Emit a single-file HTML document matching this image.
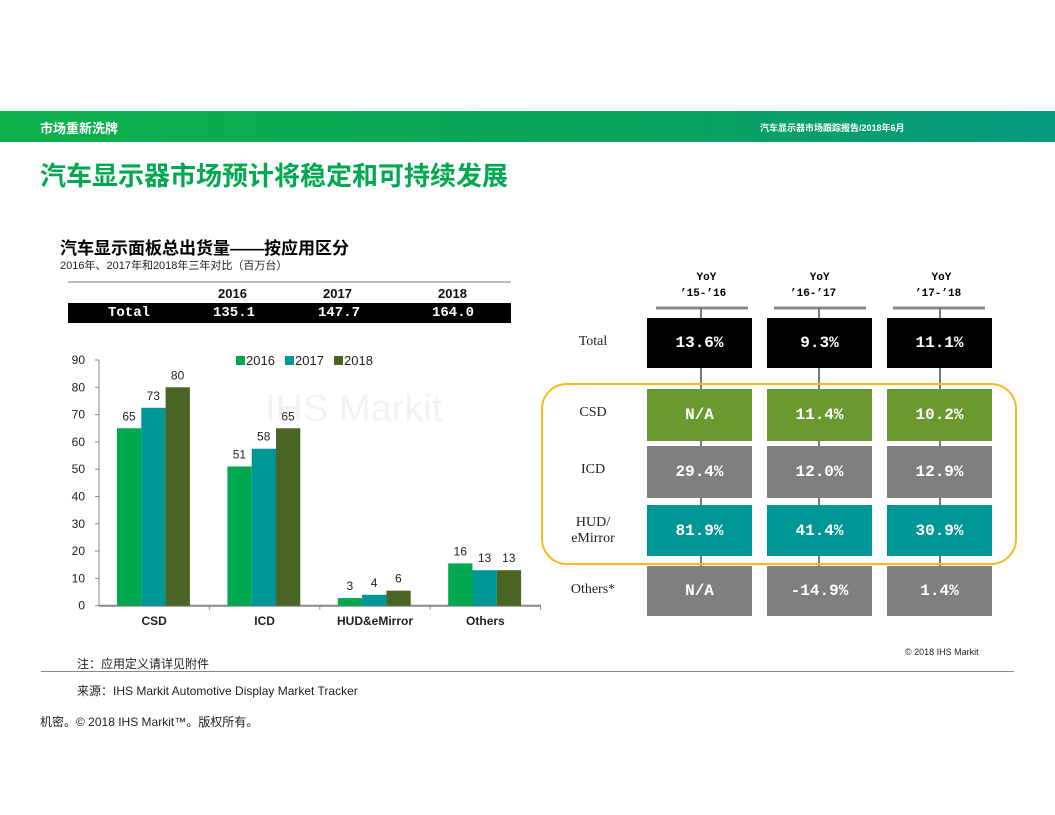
<!DOCTYPE html>
<html><head><meta charset="utf-8"><style>
body{margin:0;width:1055px;height:815px;background:#fff;position:relative;overflow:hidden;font-family:"Liberation Sans","Noto Sans CJK SC",sans-serif}
.a{position:absolute;white-space:nowrap}
.cell{position:absolute;color:#fff;font-family:"Liberation Mono","DejaVu Sans Mono",monospace;font-weight:bold;font-size:16px;display:flex;align-items:center;justify-content:center}
.rl{position:absolute;font-family:"Liberation Serif","Noto Serif CJK SC",serif;font-size:14px;color:#222;text-align:center;width:80px}
</style></head><body>
<div class="a" style="left:0;top:111px;width:1055px;height:31px;background:linear-gradient(90deg,#0cb14b,#0aa35d 60%,#079a80)"></div>
<div class="a" style="left:40px;top:118px;color:#fff;font-size:13px;font-weight:bold">市场重新洗牌</div>
<div class="a" style="left:760px;top:121px;color:#fff;font-size:9px;font-weight:bold">汽车显示器市场跟踪报告/2018年6月</div>
<div class="a" style="left:40px;top:156px;color:#00a94f;font-size:26px;font-weight:bold">汽车显示器市场预计将稳定和可持续发展</div>
<div class="a" style="left:60px;top:234px;font-size:17px;font-weight:bold;color:#000">汽车显示面板总出货量——按应用区分</div>
<div class="a" style="left:60px;top:257px;font-size:11px;color:#222">2016年、2017年和2018年三年对比（百万台）</div>
<div class="a" style="left:68px;top:281px;width:443px;height:2px;background:#bbb"></div>
<div class="a" style="left:68px;top:286px;width:443px;font-size:13px;font-weight:bold;color:#111">
<span class="a" style="left:150px">2016</span><span class="a" style="left:255px">2017</span><span class="a" style="left:370px">2018</span></div>
<div class="a" style="left:68px;top:303px;width:443px;height:20px;background:#000;color:#fff;font-family:'Liberation Mono',monospace;font-size:14px;font-weight:bold">
<span class="a" style="left:40px;top:2px">Total</span><span class="a" style="left:145px;top:2px">135.1</span><span class="a" style="left:250px;top:2px">147.7</span><span class="a" style="left:364px;top:2px">164.0</span></div>

<svg class="a" style="left:0;top:0" width="560" height="650" id="chart"></svg>

<div class="a" style="left:265px;top:388px;font-size:38px;color:#f1f3f1">IHS Markit</div>

<svg class="a" style="left:0;top:0" width="1055" height="815">
<g stroke="#888" stroke-width="3"><line x1="656" y1="308" x2="748" y2="308"/><line x1="774" y1="308" x2="866" y2="308"/><line x1="893" y1="308" x2="985" y2="308"/></g>
<g stroke="#777" stroke-width="2"><line x1="701" y1="308" x2="701" y2="616"/><line x1="819" y1="308" x2="819" y2="616"/><line x1="940" y1="308" x2="940" y2="616"/></g>
</svg>
<div class="a" style="left:680px;top:270px;font-size:11px;font-family:'Liberation Mono',monospace;font-weight:bold;text-align:center;line-height:16px">&nbsp;YoY<br>’15-’16</div>
<div class="a" style="left:790px;top:270px;font-size:11px;font-family:'Liberation Mono',monospace;font-weight:bold;text-align:center;line-height:16px">&nbsp;&nbsp;YoY<br>’16-’17</div>
<div class="a" style="left:915px;top:270px;font-size:11px;font-family:'Liberation Mono',monospace;font-weight:bold;text-align:center;line-height:16px">&nbsp;YoY<br>’17-’18</div>
<div id="tbl"></div>
<div class="a" style="left:541px;top:383px;width:472px;height:178px;border:2px solid #f9b81e;border-radius:26px"></div>
<div class="a" style="left:905px;top:647px;font-size:9px;color:#222">© 2018 IHS Markit</div>
<div class="a" style="left:77px;top:655px;font-size:12px;color:#222">注：应用定义请详见附件</div>
<div class="a" style="left:41px;top:671px;width:973px;height:1px;background:#888"></div>
<div class="a" style="left:77px;top:682px;font-size:12px;color:#222">来源：IHS Markit Automotive Display Market Tracker</div>
<div class="a" style="left:40px;top:713px;font-size:12px;color:#222">机密。© 2018 IHS Markit™。版权所有。</div>

<script>
const categories=["CSD","ICD","HUD&eMirror","Others"];
const series2016=[65,51,2.8,15.5];
const series2017=[72.5,57.5,4,13];
const series2018=[80,65,5.5,13];
const labels2016=["65","51","3","16"];
const labels2017=["73","58","4","13"];
const labels2018=["80","65","6","13"];
const yTicks=[0,10,20,30,40,50,60,70,80,90];
const years=["2016","2017","2018"];
const colors=["#00a84f","#009696","#4a6423"];
const ns="http://www.w3.org/2000/svg";
const svg=document.getElementById('chart');
const y0=605.7,pxPerUnit=245.7/90,xL=99,groupW=110.4;
const Y=v=>y0-v*pxPerUnit;
const X=(g,s)=>xL+18+g*groupW+s*24.3;
function mk(t,a){const e=document.createElementNS(ns,t);for(const k in a)e.setAttribute(k,a[k]);svg.appendChild(e);return e;}
yTicks.forEach(t=>{const tx=mk('text',{x:85,y:Y(t)+4,'text-anchor':'end','font-size':12,fill:'#222'});tx.textContent=t;

mk('line',{x1:95,x2:99,y1:Y(t),y2:Y(t),stroke:'#888'});});
const ax=mk('line',{x1:99,x2:99,y1:Y(90),y2:y0,stroke:'#888','stroke-width':1});

const xa=mk('line',{x1:99,x2:541,y1:y0,y2:y0,stroke:'#888','stroke-width':2});

const all=[series2016,series2017,series2018],lab=[labels2016,labels2017,labels2018];
categories.forEach((c,g)=>{
 mk('line',{x1:xL+(g+1)*groupW,x2:xL+(g+1)*groupW,y1:y0,y2:y0+4,stroke:'#888'});
 const t=mk('text',{x:xL+g*groupW+groupW/2,y:625,'text-anchor':'middle','font-size':12,'font-weight':'bold',fill:'#222'});t.textContent=c;
 
 all.forEach((s,i)=>{
  const r=mk('rect',{x:X(g,i),y:Y(s[g]),width:24.3,height:y0-Y(s[g]),fill:colors[i]});
  
  
  const l=mk('text',{x:X(g,i)+12,y:Y(s[g])-8,'text-anchor':'middle','font-size':12,fill:'#222'});l.textContent=lab[i][g];
  
 });
});
years.forEach((yv,i)=>{const x=236+i*49;
 const r=mk('rect',{x:x,y:356,width:9,height:9,fill:colors[i]});
 
 const t=mk('text',{x:x+10,y:365,'font-size':13,fill:'#222'});t.textContent=yv;
 });

const rowNames=["Total","CSD","ICD","HUD/<br>eMirror","Others*"];
const yoy15=["13.6%","N/A","29.4%","81.9%","N/A"];
const yoy16=["9.3%","11.4%","12.0%","41.4%","-14.9%"];
const yoy17=["11.1%","10.2%","12.9%","30.9%","1.4%"];
const rowTops=[318,389,446,505,566],rowH=[50,52,52,51,50];
const rowColors=["#000","#6a9a2f","#7f7f7f","#009696","#7f7f7f"];
const colL=[647,767,887],colW=105;
const tbl=document.getElementById('tbl');
[yoy15,yoy16,yoy17].forEach((col,ci)=>col.forEach((v,ri)=>{
 const d=document.createElement('div');d.className='cell';
 
 
 d.style.cssText+=`left:${colL[ci]}px;top:${rowTops[ri]}px;width:${colW}px;height:${rowH[ri]}px;background:${rowColors[ri]}`;
 d.textContent=v;tbl.appendChild(d);}));
rowNames.forEach((n,ri)=>{const d=document.createElement('div');d.className='rl';
 
 
 const multi=n.includes('<br>');
 d.style.left='553px';d.style.top=(rowTops[ri]+(multi?10:16))+'px';d.innerHTML=n;tbl.appendChild(d);});
</script>
</body></html>
